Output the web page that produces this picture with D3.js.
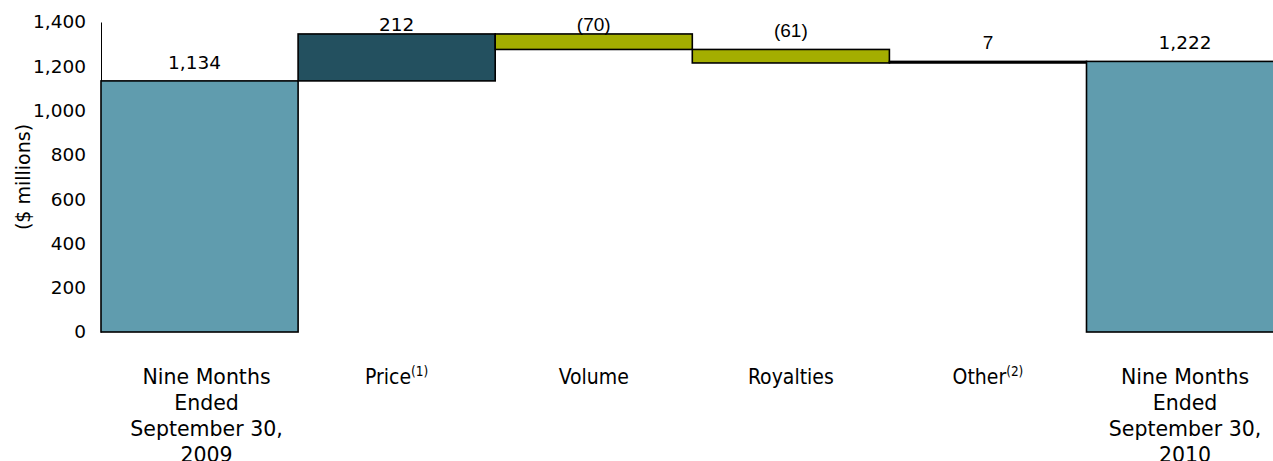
<!DOCTYPE html>
<html>

<head>
    <title>Waterfall chart with D3.js</title>
    <style>
        body {
            margin: 0;
            background: #fff;
        }

        text {
            fill: #000;
        }
    </style>
    <script src="https://d3js.org/d3.v7.min.js"></script>
</head>

<body>
    <script>
        // chart data
        const categories = [
            "Nine Months\nEnded\nSeptember 30,\n2009",
            "Price",
            "Volume",
            "Royalties",
            "Other",
            "Nine Months\nEnded\nSeptember 30,\n2010"
        ];
        const footnotes = ["", "(1)", "", "", "(2)", ""];
        const values = [1134, 212, -70, -61, 7, 1222];
        const kinds = ["total", "up", "down", "down", "up", "total"];
        const valueLabels = ["1,134", "212", "(70)", "(61)", "7", "1,222"];
        const yTicks = [0, 200, 400, 600, 800, 1000, 1200, 1400];

        let width = 1273;
        let height = 461;

        let colors = { total: "#609cae", up: "#23505f", down: "#a4ae00" };

        // running totals -> start/end of each bar
        let bars = [];
        let run = 0;
        for (let i = 0; i < values.length; i++) {
            let v = values[i];
            let start, end;
            if (kinds[i] == "total") {
                start = 0;
                end = v;
                run = v;
            } else {
                start = run;
                end = run + v;
                run = end;
            }
            bars.push({ cat: categories[i], kind: kinds[i], lo: Math.min(start, end), hi: Math.max(start, end), label: valueLabels[i], i: i });
        }

        let svg = d3.select("body")
            .append("svg")
            .attr("width", width)
            .attr("height", height)
            .style("display", "block");

        let y = d3.scaleLinear().domain([0, 1400]).range([332, 22]);
        let x = d3.scaleBand().domain(categories).range([101, 1283.6]).padding(0);

        // y axis
        let yAxis = svg.append("g")
            .attr("transform", "translate(101,0)")
            .call(d3.axisLeft(y).tickValues(yTicks).tickSize(0).tickPadding(15).tickFormat(d3.format(",")));
        yAxis.select(".domain").attr("stroke", "#000").attr("stroke-width", 1);
        yAxis.selectAll("text")
            .style("font-family", "'DejaVu Sans', Verdana, sans-serif")
            .style("font-size", "18.5px")
            .attr("fill", "#000");

        svg.append("text")
            .attr("transform", "translate(30,177) rotate(-90)")
            .attr("text-anchor", "middle")
            .style("font-family", "'DejaVu Sans', Verdana, sans-serif")
            .style("font-size", "19px")
            .text("($ millions)");

        // bars
        svg.selectAll(".bar")
            .data(bars)
            .enter()
            .append("rect")
            .attr("class", "bar")
            .attr("x", d => x(d.cat))
            .attr("width", x.bandwidth())
            .attr("y", d => y(d.hi))
            .attr("height", d => y(d.lo) - y(d.hi))
            .attr("fill", d => colors[d.kind])
            .attr("stroke", "#000")
            .attr("stroke-width", 1.6);

        // value labels
        svg.selectAll(".val")
            .data(bars)
            .enter()
            .append("text")
            .attr("class", "val")
            .attr("x", d => x(d.cat) + x.bandwidth() / 2 + (d.i == 0 ? -5 : 0))
            .attr("y", d => Math.max(y(d.hi) - 12, 31))
            .attr("text-anchor", "middle")
            .style("font-family", d => (d.i >= 2 && d.i <= 4) ? "'Liberation Sans', Arial, sans-serif" : "'DejaVu Sans', Verdana, sans-serif")
            .style("font-size", d => (d.i >= 2 && d.i <= 4) ? "19px" : "18.5px")
            .text(d => d.label);

        // category labels
        let catLabels = svg.selectAll(".cat")
            .data(categories)
            .enter()
            .append("text")
            .attr("class", "cat")
            .attr("text-anchor", "middle")
            .attr("x", d => x(d) + x.bandwidth() / 2)
            .attr("y", 384)
            .style("font-family", d => d.indexOf("\n") >= 0 ? "'DejaVu Sans', Verdana, sans-serif" : "'DejaVu Sans Condensed', 'DejaVu Sans', sans-serif")
            .style("font-stretch", d => d.indexOf("\n") >= 0 ? "normal" : "condensed")
            .style("font-size", d => d.indexOf("\n") >= 0 ? "20.5px" : "21px");

        catLabels.each(function (d, i) {
            let t = d3.select(this);
            let lines = d.split("\n");
            if (lines.length > 1) {
                lines.forEach(function (line, j) {
                    t.append("tspan")
                        .attr("x", x(d) + x.bandwidth() / 2 + (i == 0 ? 7 : 0))
                        .attr("dy", j == 0 ? 0 : 26)
                        .text(line);
                });
            } else {
                t.append("tspan").text(d);
                if (footnotes[i]) {
                    t.append("tspan")
                        .attr("dy", -8)
                        .style("font-size", "13.5px")
                        .text(footnotes[i]);
                }
            }
        });
    </script>
</body>

</html>
